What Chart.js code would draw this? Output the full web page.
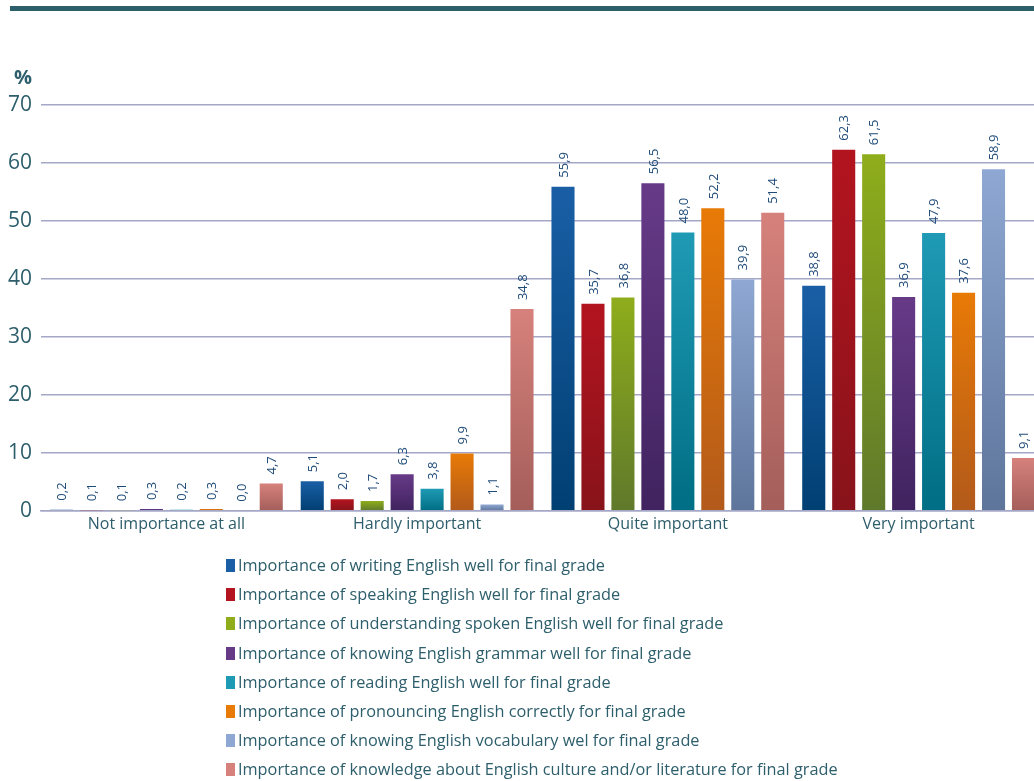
<!DOCTYPE html>
<html lang="en">
<head>
<meta charset="utf-8">
<title>Importance of English skills for final grade</title>
<script src="https://cdn.jsdelivr.net/npm/chart.js@4.4.1/dist/chart.umd.min.js"></script>
<style>
    html, body {
        margin: 0;
        padding: 0;
        background: #ffffff;
        overflow: hidden;
        width: 1034px;
        height: 781px;
        font-family: "Open Sans", "DejaVu Sans", sans-serif;
    }
    .top-rule {
        position: absolute;
        left: 10px;
        top: 6px;
        width: 1030px;
        height: 5px;
        background: #2c5e6b;
    }
    .chart-box {
        position: absolute;
        left: 0;
        top: 0;
        width: 1045px;
        height: 560px;
    }
    #legend {
        position: absolute;
        left: 226px;
        top: 551px;
        margin: 0;
        padding: 0;
        list-style: none;
    }
    #legend li {
        height: 29.2px;
        line-height: 29.2px;
        font-size: 16.3px;
        color: #2d5e6b;
        white-space: nowrap;
    }
    #legend .swatch {
        display: inline-block;
        width: 9px;
        height: 13px;
        margin-right: 3px;
        vertical-align: -1px;
    }
</style>
</head>
<body>
<div class="top-rule"></div>
<div class="chart-box"><canvas id="chart" width="1045" height="560"></canvas></div>
<ul id="legend"></ul>

<script>
// Answer categories on the x axis
const categories = ['Not importance at all', 'Hardly important', 'Quite important', 'Very important'];

// Series names (one bar per series in each category)
const seriesNames = [
    'Importance of writing English well for final grade',
    'Importance of speaking English well for final grade',
    'Importance of understanding spoken English well for final grade',
    'Importance of knowing English grammar well for final grade',
    'Importance of reading English well for final grade',
    'Importance of pronouncing English correctly for final grade',
    'Importance of knowing English vocabulary wel for final grade',
    'Importance of knowledge about English culture and/or literature for final grade'
];

// Percentages per series, in category order
const writing       = [0.2, 5.1, 55.9, 38.8];
const speaking      = [0.1, 2.0, 35.7, 62.3];
const understanding = [0.1, 1.7, 36.8, 61.5];
const grammar       = [0.3, 6.3, 56.5, 36.9];
const reading       = [0.2, 3.8, 48.0, 47.9];
const pronouncing   = [0.3, 9.9, 52.2, 37.6];
const vocabulary    = [0.0, 1.1, 39.9, 58.9];
const culture       = [4.7, 34.8, 51.4, 9.1];

const seriesValues = [writing, speaking, understanding, grammar, reading, pronouncing, vocabulary, culture];

// Y axis ticks
const yTicks = [0, 10, 20, 30, 40, 50, 60, 70];

// Bar colours: light at the top of a bar, darker at the base
const topColors    = ['#1a5fa6', '#b3141f', '#8fad1b', '#673a88', '#1f9ab5', '#e87a06', '#8ea8d3', '#d6817c'];
const bottomColors = ['#003f72', '#88131a', '#5f792b', '#40235f', '#006e84', '#b25a1b', '#5e759b', '#a45e5a'];

const TEXT_COLOR = '#2d5e6b';
const LABEL_COLOR = '#1e4a78';
const GRID_COLOR = '#a4a8c6';
const FONT = '"Open Sans", "DejaVu Sans", sans-serif';

/**
 * Build a vertical gradient for each bar, from its top down to the zero line
 */
function barFill(top, bottom) {
    return (context) => {
        const chart = context.chart;
        const yScale = chart.scales.y;
        if (!yScale || context.type !== 'data') return top;
        const yTop = yScale.getPixelForValue(context.raw);
        const yBase = yScale.getPixelForValue(0);
        if (!isFinite(yTop) || !isFinite(yBase) || yBase - yTop < 1) return top;
        const gradient = chart.ctx.createLinearGradient(0, yTop, 0, yBase);
        gradient.addColorStop(0, top);
        gradient.addColorStop(1, bottom);
        return gradient;
    };
}

/**
 * Draws each bar's value rotated upright above the bar, with a decimal comma
 */
const valueLabels = {
    id: 'valueLabels',
    afterDatasetsDraw(chart) {
        const ctx = chart.ctx;
        ctx.save();
        ctx.font = '13px ' + FONT;
        ctx.fillStyle = LABEL_COLOR;
        ctx.textAlign = 'left';
        ctx.textBaseline = 'middle';
        chart.data.datasets.forEach((dataset, i) => {
            const meta = chart.getDatasetMeta(i);
            meta.data.forEach((bar, j) => {
                const text = dataset.data[j].toFixed(1).replace('.', ',');
                ctx.save();
                ctx.translate(bar.x + 1, bar.y - 9);
                ctx.rotate(-Math.PI / 2);
                ctx.fillText(text, 0, 0);
                ctx.restore();
            });
        });
        ctx.restore();
    }
};

/**
 * Unit marker above the y axis
 */
const unitLabel = {
    id: 'unitLabel',
    afterDraw(chart) {
        const ctx = chart.ctx;
        const area = chart.chartArea;
        ctx.save();
        ctx.font = 'bold 20px ' + FONT;
        ctx.fillStyle = TEXT_COLOR;
        ctx.textAlign = 'right';
        ctx.textBaseline = 'middle';
        ctx.fillText('%', area.left - 9, area.top - 27);
        ctx.restore();
    }
};

const datasets = seriesNames.map((name, i) => ({
    label: name,
    data: seriesValues[i],
    backgroundColor: barFill(topColors[i], bottomColors[i]),
    borderWidth: 0,
    categoryPercentage: 0.956,
    barPercentage: 0.77
}));

const chart = new Chart(document.getElementById('chart'), {
    type: 'bar',
    data: {
        labels: categories,
        datasets: datasets
    },
    options: {
        responsive: false,
        animation: false,
        layout: {
            padding: { top: 105, right: 1, bottom: 22, left: 0 }
        },
        plugins: {
            legend: { display: false },
            tooltip: { enabled: false }
        },
        scales: {
            x: {
                grid: { display: false, drawTicks: false },
                border: { display: true, color: GRID_COLOR, width: 1.5 },
                ticks: {
                    padding: 4,
                    color: TEXT_COLOR,
                    font: { family: FONT, size: 16 }
                }
            },
            y: {
                min: 0,
                max: 70,
                afterBuildTicks: (scale) => {
                    scale.ticks = yTicks.map(v => ({ value: v }));
                },
                afterFit: (scale) => {
                    scale.width = 41;
                },
                grid: {
                    color: GRID_COLOR,
                    lineWidth: 1.5,
                    drawTicks: false
                },
                border: { display: false },
                ticks: {
                    padding: 9,
                    color: TEXT_COLOR,
                    font: { family: FONT, size: 21 }
                }
            }
        }
    },
    plugins: [valueLabels, unitLabel]
});

// Vertical legend listing every series
const legend = document.getElementById('legend');
chart.data.datasets.forEach((dataset, i) => {
    const item = document.createElement('li');
    const swatch = document.createElement('span');
    swatch.className = 'swatch';
    swatch.style.background = topColors[i];
    item.appendChild(swatch);
    item.appendChild(document.createTextNode(dataset.label));
    legend.appendChild(item);
});
</script>
</body>
</html>
